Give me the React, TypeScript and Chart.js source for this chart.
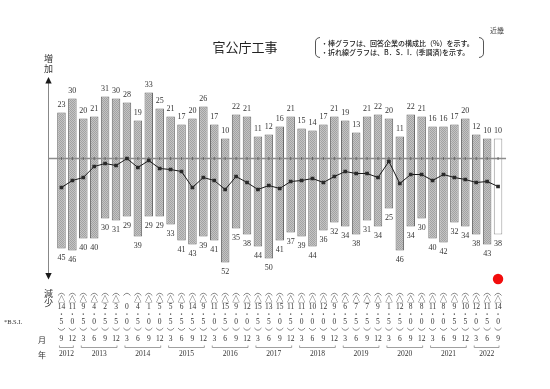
import React, { useEffect, useRef } from "react";
import { Chart, registerables } from "chart.js";

Chart.register(...registerables);

// ---- data ----
const periodYears = [
  2012, 2012,
  2013, 2013, 2013, 2013,
  2014, 2014, 2014, 2014,
  2015, 2015, 2015, 2015,
  2016, 2016, 2016, 2016,
  2017, 2017, 2017, 2017,
  2018, 2018, 2018, 2018,
  2019, 2019, 2019, 2019,
  2020, 2020, 2020, 2020,
  2021, 2021, 2021, 2021,
  2022, 2022, 2022,
];
const periodMonths = [
  9, 12,
  3, 6, 9, 12,
  3, 6, 9, 12,
  3, 6, 9, 12,
  3, 6, 9, 12,
  3, 6, 9, 12,
  3, 6, 9, 12,
  3, 6, 9, 12,
  3, 6, 9, 12,
  3, 6, 9, 12,
  3, 6, 9,
];
const increase = [
  23, 30, 20, 21, 31, 30, 28, 19, 33, 25, 21, 17, 20, 26, 17, 10, 22, 21, 11, 12,
  16, 21, 15, 14, 17, 21, 19, 13, 21, 22, 20, 11, 22, 21, 16, 16, 17, 20, 12, 10, 10,
];
const decrease = [
  45, 46, 40, 40, 30, 31, 29, 39, 29, 29, 33, 41, 43, 39, 41, 52, 35, 38, 44, 50,
  41, 37, 39, 44, 36, 32, 34, 38, 31, 34, 25, 46, 34, 30, 40, 42, 32, 34, 38, 43, 38,
];
const bsi = [
  -14.5, -11.0, -9.5, -4.0, -2.5, -3.5, 0.0, -4.5, -1.0, -5.0, -5.5, -6.5, -14.5, -9.5,
  -11.0, -15.5, -9.0, -12.0, -15.5, -13.5, -15.0, -11.5, -11.0, -10.0, -12.0, -9.0,
  -6.5, -7.5, -7.5, -9.5, -1.5, -12.5, -8.0, -8.0, -11.0, -8.0, -9.5, -10.5, -12.0,
  -11.5, -14.0,
];
const forecastIndex = 40;

const titleText = "官公庁工事";
const regionText = "近畿";
const noteLines = [
  "・棒グラフは、回答企業の構成比（%）を示す。",
  "・折れ線グラフは、B．S．I．(季調済)を示す。",
];

const SERIF = '"Liberation Serif", "DejaVu Serif", serif';
const JP = '"Noto Sans CJK JP", "Noto Sans", sans-serif';

function makePattern(): CanvasPattern | string {
  const c = document.createElement("canvas");
  c.width = 2;
  c.height = 2;
  const g = c.getContext("2d");
  if (!g) return "#b4b4b4";
  g.fillStyle = "#c4c4c4";
  g.fillRect(0, 0, 2, 2);
  g.fillStyle = "#a2a2a2";
  g.fillRect(0, 0, 1, 1);
  g.fillRect(1, 1, 1, 1);
  const p = g.createPattern(c, "repeat");
  return p || "#b4b4b4";
}

const decorPlugin = {
  id: "decor",
  beforeDatasetDraw(chart: any, args: any) {
    if (args.index !== 2) return;
    const ctx = chart.ctx;
    const y0 = chart.scales.y.getPixelForValue(0);
    const xs = chart.scales.x;
    ctx.save();
    ctx.strokeStyle = "#8c8c8c";
    ctx.lineWidth = 1.6;
    ctx.beginPath();
    ctx.moveTo(49, y0);
    ctx.lineTo(xs.getPixelForValue(forecastIndex) + 8, y0);
    ctx.stroke();
    ctx.fillStyle = "#666";
    for (let i = 0; i < periodMonths.length; i++) {
      const x = xs.getPixelForValue(i);
      ctx.fillRect(x - 0.5, y0 - 1.5, 1, 3);
    }
    ctx.restore();
  },
  afterDatasetsDraw(chart: any) {
    const ctx = chart.ctx;
    ctx.save();
    ctx.font = `8px ${SERIF}`;
    ctx.fillStyle = "#333";
    ctx.textAlign = "center";
    ctx.textBaseline = "middle";
    const up = chart.getDatasetMeta(0).data;
    const dn = chart.getDatasetMeta(1).data;
    increase.forEach((v, i) => {
      const el = up[i];
      ctx.fillText(String(v), el.x, el.y - 8);
    });
    decrease.forEach((v, i) => {
      const el = dn[i];
      ctx.fillText(String(v), el.x, el.y + 9.5);
    });
    ctx.restore();
  },
  afterDraw(chart: any) {
    const ctx = chart.ctx;
    const xs = chart.scales.x;
    ctx.save();
    ctx.textAlign = "center";
    ctx.textBaseline = "middle";

    // title
    ctx.fillStyle = "#222";
    ctx.font = `13px ${JP}`;
    ctx.fillText(titleText, 245, 47);

    // region
    ctx.font = `7px ${JP}`;
    ctx.fillStyle = "#444";
    ctx.fillText(regionText, 497, 30);

    // notes
    ctx.textAlign = "left";
    ctx.fillStyle = "#222";
    ctx.font = `500 7px ${JP}`;
    ctx.fillText(noteLines[0], 321, 43);
    ctx.fillText(noteLines[1], 321, 52);
    ctx.strokeStyle = "#444";
    ctx.lineWidth = 0.9;
    ctx.beginPath();
    ctx.moveTo(320, 37.5);
    ctx.quadraticCurveTo(315.5, 38, 315.5, 42);
    ctx.lineTo(315.5, 53);
    ctx.quadraticCurveTo(315.5, 57, 320, 57.5);
    ctx.stroke();
    ctx.beginPath();
    ctx.moveTo(479, 37.5);
    ctx.quadraticCurveTo(483.5, 38, 483.5, 42);
    ctx.lineTo(483.5, 53);
    ctx.quadraticCurveTo(483.5, 57, 479, 57.5);
    ctx.stroke();

    // left axis
    ctx.textAlign = "center";
    ctx.font = `9px ${JP}`;
    ctx.fillStyle = "#333";
    ctx.fillText("増", 48.5, 59);
    ctx.fillText("加", 48.5, 68.5);
    ctx.fillText("減", 48.5, 294);
    ctx.fillText("少", 48.5, 303);
    ctx.strokeStyle = "#888";
    ctx.lineWidth = 1;
    ctx.beginPath();
    ctx.moveTo(48.5, 83);
    ctx.lineTo(48.5, 273);
    ctx.stroke();
    ctx.fillStyle = "#1a1a1a";
    ctx.beginPath();
    ctx.moveTo(48.5, 77);
    ctx.lineTo(45.3, 83.5);
    ctx.lineTo(51.7, 83.5);
    ctx.closePath();
    ctx.fill();
    ctx.beginPath();
    ctx.moveTo(48.5, 279.5);
    ctx.lineTo(45.3, 273);
    ctx.lineTo(51.7, 273);
    ctx.closePath();
    ctx.fill();

    // red marker
    ctx.fillStyle = "#f20d0d";
    ctx.beginPath();
    ctx.arc(xs.getPixelForValue(forecastIndex), 279, 5.2, 0, Math.PI * 2);
    ctx.fill();

    // table row labels
    ctx.fillStyle = "#333";
    ctx.font = `6.5px ${SERIF}`;
    ctx.fillText("*B.S.I.", 13, 322);
    ctx.font = `8px ${JP}`;
    ctx.fillText("月", 42, 339.5);
    ctx.fillText("年", 42, 354.5);

    // table columns
    for (let i = 0; i < bsi.length; i++) {
      const x = xs.getPixelForValue(i);
      const v = bsi[i];
      const a = Math.abs(v);
      const ip = Math.floor(a + 1e-9);
      const dp = Math.round((a - ip) * 10);
      ctx.strokeStyle = "#666";
      ctx.lineWidth = 0.8;
      ctx.beginPath();
      ctx.moveTo(x - 3.5, 295.5);
      ctx.quadraticCurveTo(x, 291, x + 3.5, 295.5);
      ctx.stroke();
      ctx.beginPath();
      ctx.moveTo(x - 3.5, 328);
      ctx.quadraticCurveTo(x, 332.5, x + 3.5, 328);
      ctx.stroke();
      ctx.fillStyle = "#333";
      if (v < 0) {
        ctx.font = `7.5px ${JP}`;
        ctx.fillText("△", x, 299.5);
      }
      ctx.font = `7.5px ${SERIF}`;
      ctx.fillText(String(ip), x, 307.5);
      ctx.fillRect(x - 0.6, 313.5, 1.2, 1.2);
      ctx.fillText(String(dp), x, 322);
      ctx.fillText(String(periodMonths[i]), x, 339.5);
    }

    // year brackets
    const groups: { year: number; first: number; last: number }[] = [];
    periodYears.forEach((yv, i) => {
      const g = groups[groups.length - 1];
      if (g && g.year === yv) g.last = i;
      else groups.push({ year: yv, first: i, last: i });
    });
    groups.forEach((g) => {
      const x1 = xs.getPixelForValue(g.first) - 2;
      const x2 = xs.getPixelForValue(g.last) + 1;
      ctx.strokeStyle = "#888";
      ctx.lineWidth = 0.8;
      ctx.beginPath();
      ctx.moveTo(x1, 345.5);
      ctx.lineTo(x1, 347.5);
      ctx.lineTo(x2, 347.5);
      ctx.lineTo(x2, 345.5);
      ctx.stroke();
      ctx.fillStyle = "#333";
      ctx.font = `7.5px ${SERIF}`;
      ctx.fillText(String(g.year), (x1 + x2) / 2, 354.5);
    });

    ctx.restore();
  },
};

export default function App() {
  const ref = useRef<HTMLCanvasElement | null>(null);

  useEffect(() => {
    if (!ref.current) return;
    const pattern = makePattern();
    const labels = periodYears.map((y, i) => `${y}/${periodMonths[i]}`);
    const fills = increase.map((_, i) => (i === forecastIndex ? "#ffffff" : pattern));
    const borders = increase.map((_, i) => (i === forecastIndex ? "#9a9a9a" : "#6a6a6a"));
    const chart = new Chart(ref.current, {
      type: "bar",
      data: {
        labels,
        datasets: [
          {
            type: "bar",
            label: "増加",
            data: increase,
            backgroundColor: fills as any,
            borderColor: borders,
            borderWidth: 1,
            categoryPercentage: 1,
            barPercentage: 0.78,
            order: 2,
          },
          {
            type: "bar",
            label: "減少",
            data: decrease.map((v) => -v),
            backgroundColor: fills as any,
            borderColor: borders,
            borderWidth: 1,
            categoryPercentage: 1,
            barPercentage: 0.78,
            order: 1,
          },
          {
            type: "line",
            label: "B.S.I.",
            data: bsi,
            borderColor: "#1a1a1a",
            borderWidth: 1,
            pointStyle: "rect",
            pointRadius: 2.6,
            pointBackgroundColor: "#2a2a2a",
            pointBorderColor: "#2a2a2a",
            pointBorderWidth: 0,
            tension: 0,
            order: 0,
          } as any,
        ],
      },
      options: {
        responsive: false,
        animation: false,
        devicePixelRatio: 1,
        layout: { padding: { left: 56, right: 46.5, top: 88.5, bottom: 120.5 } },
        scales: {
          x: { display: false, stacked: true, offset: true },
          y: { display: false, min: -55, max: 35, stacked: false },
        },
        plugins: {
          legend: { display: false },
          tooltip: { enabled: false },
          title: { display: false },
        },
      },
      plugins: [decorPlugin as any],
    });
    return () => chart.destroy();
  }, []);

  return (
    <div style={{ position: "absolute", left: 0, top: 0, width: 550, height: 389, background: "#fff" }}>
      <canvas ref={ref} width={550} height={389} style={{ display: "block", width: 550, height: 389 }} />
    </div>
  );
}
